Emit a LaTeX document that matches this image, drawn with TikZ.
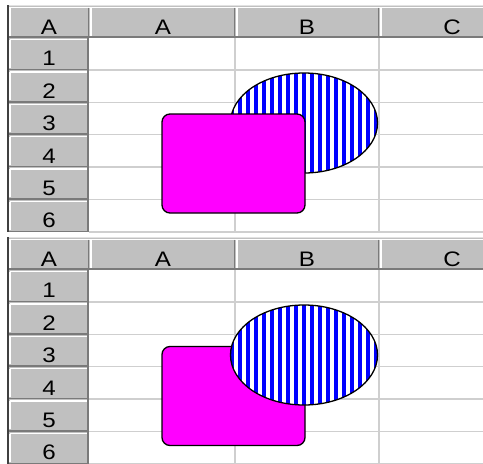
\documentclass[tikz,border=0pt]{standalone}
\usepackage{fontspec}
\setmainfont{Liberation Sans}
\usepackage{xcolor}
\usetikzlibrary{positioning,shapes.geometric,patterns.meta}
\definecolor{hdrgray}{HTML}{C0C0C0}
\definecolor{gridgray}{HTML}{CFCFCF}
\definecolor{shadegray}{HTML}{7A7A7A}
\definecolor{boxpink}{HTML}{FF00FF}
\definecolor{stripeblue}{HTML}{0000FF}
\begin{document}
\begin{tikzpicture}[
  x = 1pt, y = -1pt,
  lbl/.style = {font=\fontsize{21}{21}\selectfont, inner sep=0pt, anchor=base, xscale=1.15},
  gridln/.style = {draw=gridgray, line width=1.5pt},
  hilite/.style = {draw=white, line width=1.5pt},
  shade/.style = {draw=shadegray, line width=1.5pt},
  oval/.style = {ellipse, draw, line width=1.3pt, minimum width=147pt,
    minimum height=100pt, inner sep=0pt, preaction={fill=white},
    pattern={Lines[angle=90,distance=8pt,line width=3.5pt]}, pattern color=stripeblue},
  box/.style = {rectangle, draw, line width=1.3pt, fill=boxpink,
    rounded corners=8pt, minimum width=143pt, minimum height=99pt, inner sep=0pt}
]
  \useasboundingbox[fill=white] (0,0) rectangle (483,464);
  % two copies of the sheet
  \foreach \oy/\p in {0/1,232/2}{
    \begin{scope}[yshift=-\oy pt]
      \fill[white] (89,38) rectangle (483,232);
      \foreach \r in {1,...,6}
        \draw[gridln] (89,{37.5+32.4*\r}) -- (483,{37.5+32.4*\r});
      \draw[gridln] (235,38) -- (235,232);
      \draw[gridln] (379,38) -- (379,232);
      % headers
      \fill[hdrgray] (8,6) rectangle (483,38);
      \fill[hdrgray] (8,38) rectangle (89,232);
      \draw[draw=gridgray!60, line width=1.5pt] (8,5.5) -- (483,5.5);
      \draw[hilite] (8,7.5) -- (483,7.5);
      \foreach \cx in {8,89,235,379}{
        \draw[hilite] (\cx+2,7.5) -- (\cx+2,36);
        \draw[shade] (\cx-0.5,7.5) -- (\cx-0.5,36.5);
      }
      \draw[shade] (8,36.8) -- (483,36.8);
      \foreach \r in {0,...,5}
        \draw[hilite] (10,{39.5+32.4*\r}) -- (87,{39.5+32.4*\r})
                      (10,{39.5+32.4*\r}) -- (10,{67.5+32.4*\r});
      \foreach \r in {1,...,6}
        \draw[shade] (8,{37+32.4*\r}) -- (89,{37+32.4*\r});
      \draw[shade] (88,38) -- (88,232);
      \draw[draw=black!75, line width=2pt] (8,5) -- (8,232);
      % labels
      \node[lbl] (corner\p) at (49,34) {A};
      \node[lbl] (colA\p) at (163,34) {A};
      \node[lbl] (colB\p) at (307,34) {B};
      \node[lbl] (colC\p) at (452,34) {C};
      \foreach \r in {1,...,6}
        \node[lbl] (row\r\p) at (49,{37.5+32.4*\r-4}) {\r};
    \end{scope}
  }
  % top: box in front
  \node[oval] (oval1) at (304,123) {};
  \node[box] (box1) at (233.5,163.5) {};
  % bottom: oval in front
  \node[box] (box2) at (233.5,396) {};
  \node[oval] (oval2) at (304,355) {};
\end{tikzpicture}
\end{document}
